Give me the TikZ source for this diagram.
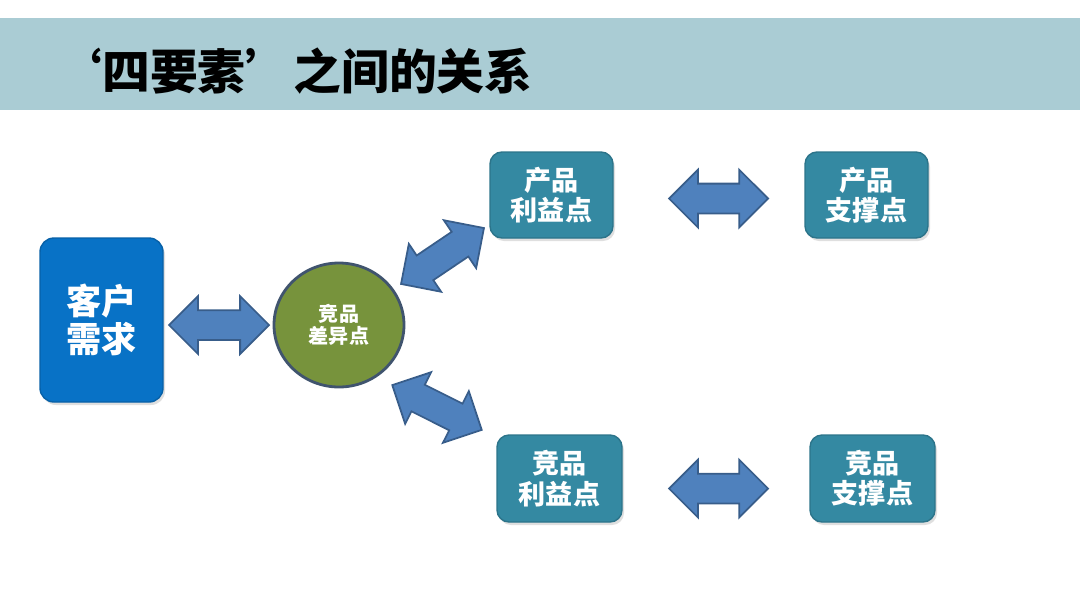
\documentclass[tikz,border=0pt]{standalone}
\usepackage{fontspec}
\setmainfont{Noto Sans CJK SC}
\usetikzlibrary{shapes.geometric,shapes.arrows,shadows}

\definecolor{barblue}{RGB}{170,204,212}
\definecolor{needblue}{RGB}{8,114,198}
\definecolor{boxteal}{RGB}{52,137,162}
\definecolor{diffgreen}{RGB}{119,147,60}
\definecolor{diffline}{RGB}{64,84,110}
\definecolor{arrowfill}{RGB}{79,129,189}
\definecolor{arrowline}{RGB}{56,93,138}

\tikzset{
    factor/.style={rectangle, rounded corners=0.12cm, fill=boxteal, draw=boxteal!85!black,
        text=white, font=\bfseries\fontsize{7.7}{8.6}\selectfont, align=center,
        minimum width=1.23cm, minimum height=0.86cm, inner sep=0pt,
        drop shadow={opacity=0.25, shadow xshift=0.02cm, shadow yshift=-0.03cm}},
    link/.style={double arrow, fill=arrowfill, draw=arrowline, line width=0.5pt,
        minimum height=1cm, minimum width=0.56cm, double arrow head extend=0.14cm,
        inner xsep=0pt, inner ysep=0.14cm}
}

\begin{document}
\begin{tikzpicture}
    \useasboundingbox (0, 0) rectangle (10.8, 5.88);
    % Title bar
    \fill[barblue] (0, 4.78) rectangle (10.8, 5.70);
    \node[anchor=west, font=\bfseries\fontsize{13.6}{15}\selectfont] (title) at (0.42, 5.17) {‘四要素’之间的关系};
    % Customer need
    \node[rectangle, rounded corners=0.14cm, fill=needblue, draw=needblue!85!black,
        text=white, font=\bfseries\fontsize{10}{10.6}\selectfont, align=center,
        minimum width=1.23cm, minimum height=1.64cm,
        drop shadow={opacity=0.25, shadow xshift=0.02cm, shadow yshift=-0.03cm}]
        (need) at (1.015, 2.68) {客户\\需求};
    % Difference point
    \node[ellipse, fill=diffgreen, draw=diffline, line width=0.8pt, text=white,
        font=\bfseries\fontsize{5.7}{6.4}\selectfont, align=center,
        minimum width=1.30cm, minimum height=1.24cm, inner sep=0pt]
        (diff) at (3.39, 2.63) {竞品\\差异点};
    % The four boxes
    \node[factor] (pbenefit) at (5.515, 3.93) {产品\\利益点};
    \node[factor] (psupport) at (8.665, 3.93) {产品\\支撑点};
    \node[factor, minimum width=1.25cm, minimum height=0.87cm] (cbenefit) at (5.595, 1.095) {竞品\\利益点};
    \node[factor, minimum width=1.25cm, minimum height=0.87cm] (csupport) at (8.725, 1.095) {竞品\\支撑点};
    % Double arrows
    \node[link] (needlink) at (2.19, 2.63) {};
    \node[link, rotate=34] (uplink) at (4.425, 3.32) {};
    \node[link, rotate=-26.6] (downlink) at (4.37, 1.805) {};
    \node[link, minimum height=0.99cm] (plink) at (7.185, 3.895) {};
    \node[link, minimum height=0.99cm] (clink) at (7.185, 0.995) {};
\end{tikzpicture}
\end{document}
